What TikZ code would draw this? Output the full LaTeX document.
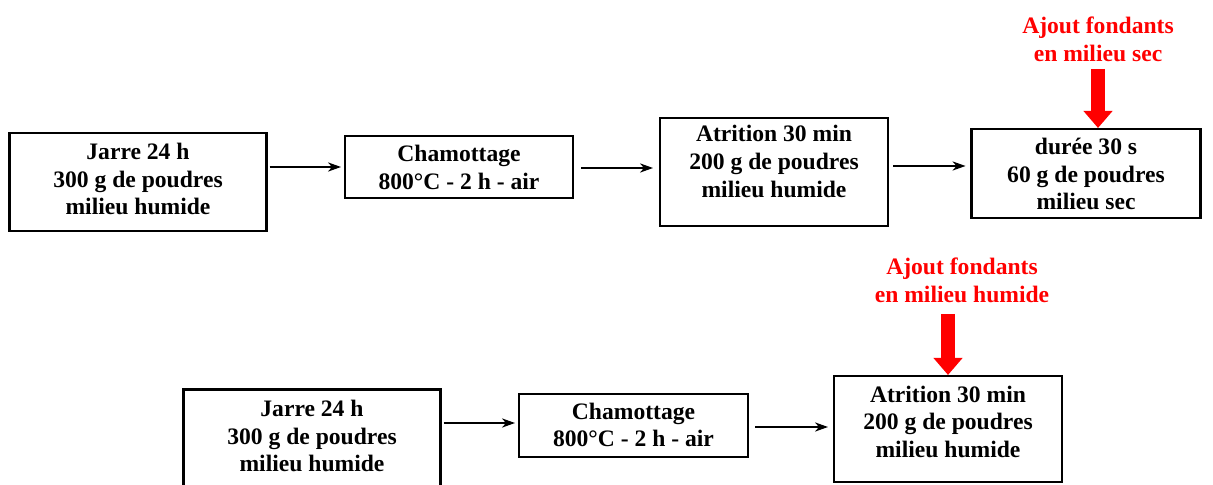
\documentclass[tikz,border=0pt]{standalone}
\usepackage{fontspec}
\setmainfont{Liberation Serif}
\usetikzlibrary{arrows.meta}
\definecolor{ajoutred}{HTML}{FF0000}
\tikzset{
  etapebox/.style={draw=black, line width=1.05pt, inner sep=0pt, outer sep=0pt},
  etapetxt/.style={align=center, inner sep=0pt, font=\fontsize{11.8}{13.8}\selectfont\bfseries},
  ajouttxt/.style={align=center, inner sep=0pt, text=ajoutred, font=\fontsize{11.8}{14}\selectfont\bfseries},
  flow/.style={-{Stealth[length=6.5pt,width=4.6pt,inset=2pt]}, line width=0.75pt, shorten <=1.5pt, shorten >=2pt},
  ajout/.style={-{Triangle[length=8.5pt,width=14pt]}, line width=7pt, draw=ajoutred}
}
% #1 name, #2 x, #3 y, #4 width, #5 height (px), #6 text y, #7 text
\newcommand{\etape}[7]{%
  \node[etapebox, minimum width=#4*0.5pt, minimum height=#5*0.5pt] (#1) at (#2,#3) {};
  \node[etapetxt] (#1txt) at (#2,#6) {#7};
}
\begin{document}
\begin{tikzpicture}[x=0.5pt, y=-0.5pt]
  \useasboundingbox (0,0) rectangle (1213,485);

  % ---------- First route: fondants added dry ----------
  \etape{jarre1}{138}{182}{257}{98}{179}{Jarre 24 h\\300 g de poudres\\milieu humide}
  \etape{cham1}{459}{167}{228}{62}{167.5}{Chamottage\\800°C - 2 h - air}
  \etape{atri1}{774}{172}{228}{108}{161.5}{Atrition 30 min\\200 g de poudres\\milieu humide}
  \etape{sec1}{1086}{173.5}{229}{89}{174}{durée 30 s\\60 g de poudres\\milieu sec}

  \draw[flow] (jarre1.east |- 0,167) -- (cham1.west |- 0,167);
  \draw[flow, shorten <=4pt, shorten >=3.5pt] (cham1.east |- 0,168) -- (atri1.west |- 0,168);
  \draw[flow, shorten <=2.5pt, shorten >=3pt] (atri1.east |- 0,166) -- (sec1.west |- 0,166);

  \node[ajouttxt] (lblsec) at (1098,39) {Ajout fondants\\en milieu sec};
  \draw[ajout, shorten <=3.5pt, shorten >=0.5pt] (lblsec.south) -- (lblsec.south |- sec1.north);

  % ---------- Second route: fondants added wet ----------
  \etape{jarre2}{312}{440}{257}{101}{436}{Jarre 24 h\\300 g de poudres\\milieu humide}
  \etape{cham2}{633.5}{425.5}{229}{63}{425}{Chamottage\\800°C - 2 h - air}
  \etape{atri2}{948}{429}{228}{106}{421.7}{Atrition 30 min\\200 g de poudres\\milieu humide}

  \draw[flow] (jarre2.east |- 0,423) -- (cham2.west |- 0,423);
  \draw[flow, shorten <=3.5pt, shorten >=3pt] (cham2.east |- 0,427) -- (atri2.west |- 0,427);

  \node[ajouttxt] (lblhum) at (962,280) {Ajout fondants\\en milieu humide};
  \draw[ajout, shorten <=5.5pt, shorten >=0.5pt] (atri2.north |- lblhum.south) -- (atri2.north);
\end{tikzpicture}
\end{document}
